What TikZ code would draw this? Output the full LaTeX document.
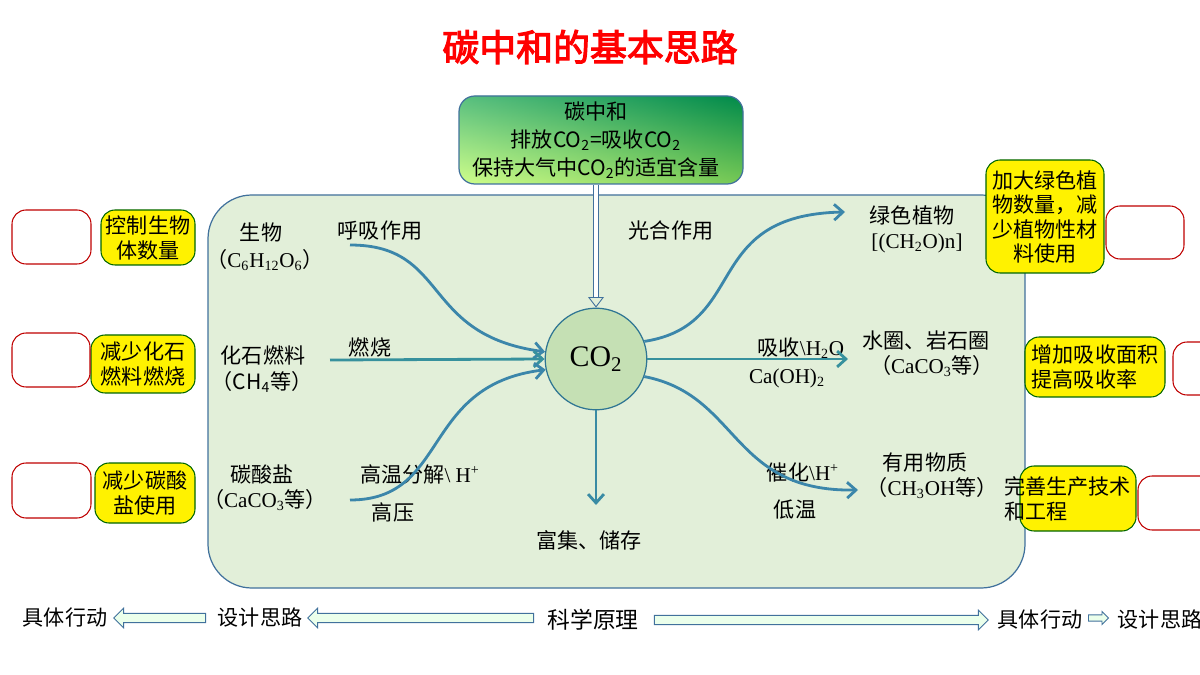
\documentclass[tikz,border=0pt]{standalone}
\usepackage{fontspec}
\setmainfont{Noto Sans CJK SC}
\newfontfamily\tnr{Liberation Serif}
\newfontfamily\ttl[AutoFakeBold=3]{Noto Sans CJK SC}
\usetikzlibrary{arrows.meta,shapes.arrows,positioning}
\definecolor{bgreen}{HTML}{E2EFD9}
\definecolor{cgreen}{HTML}{C5E0B4}
\definecolor{frame}{HTML}{41719C}
\definecolor{arr}{HTML}{4472C4}
\definecolor{tl}{HTML}{2EA583}
\newcommand{\sub}[1]{\textsubscript{#1}}
\tikzset{
  txt/.style = {font=\fontsize{12}{14}\selectfont, align=center, inner sep=1pt},
  tip/.style = {rounded corners=8pt, fill=yellow, draw=black!60!green, line width=0.6pt},
  empty/.style = {rounded corners=8pt, draw=red!75!black, fill=white, line width=0.6pt},
  flow/.style = {line width=1.6pt, -{Straight Barb[length=5pt,width=9pt]}},
  fat/.style = {single arrow, draw=frame, fill=green!8, minimum height=#1, minimum width=0pt,
     single arrow head extend=3pt, inner xsep=0pt, inner ysep=2.4pt, line width=0.5pt},
}
\begin{document}
\begin{tikzpicture}[x=0.02cm, y=-0.02cm]
\useasboundingbox (0,0) rectangle (1200,675);
\clip (0,0) rectangle (1200,675);

% title
\node[text=red, font=\fontsize{21}{24}\selectfont\ttl\bfseries] (title) at (590,47) {碳中和的基本思路};

% main frame
\draw[fill=bgreen, draw=frame, line width=0.7pt, rounded corners=25pt] (208,195) rectangle (1025,588);

% top box
\shade[top color=green!45!teal!85!black, bottom color=green!40!yellow!70, rounded corners=9pt] (459,96) rectangle (743,184);
\shade[left color=white!10, right color=teal!80!black, opacity=0.35, rounded corners=9pt] (459,96) rectangle (743,184);
\draw[frame, rounded corners=9pt, line width=0.7pt] (459,96) rectangle (743,184);
\node[txt, font=\fontsize{12}{16}\selectfont] (goal) at (596,140) {碳中和\\排放CO\sub{2}=吸收CO\sub{2}\\保持大气中CO\sub{2}的适宜含量};

% CO2
\node[circle, draw=frame!70!teal, fill=cgreen, minimum size=102pt*0.02/0.0352778, line width=0.7pt,
  font=\fontsize{17}{20}\selectfont\tnr] (co2) at (596,359) {CO\sub{2}};

\draw[double=white, double distance=2.5pt, draw=frame, line width=0.5pt, -{Triangle[open,length=6pt,width=9pt]}]
  (596,185) -- (co2.north);
\draw[flow, color=arr!50!tl] (co2.south) -- (596,505);

% left column
\node[txt] (bio) at (261,232) {生物};
\node[txt] (biof) at (265,260) {（{\tnr C\sub{6}H\sub{12}O\sub{6}}）};
\node[txt] (resp) at (380,231) {呼吸作用};
\node[txt] (fossil) at (263,355) {化石燃料};
\node[txt] (ch4) at (262,382) {（CH\sub{4}等）};
\node[txt] (burn) at (370,347) {燃烧};
\node[txt] (carb) at (262,474) {碳酸盐};
\node[txt] (caco) at (265,500) {（{\tnr CaCO\sub{3}}等）};
\node[txt] (decomp) at (420,474) {高温分解{\tnr\textbackslash{} H\textsuperscript{+}}};
\node[txt] (press) at (393,512) {高压};
\node[txt] (store) at (589,540) {富集、储存};

% right column
\node[txt] (photo) at (671,231) {光合作用};
\node[txt] (plant) at (912,215) {绿色植物};
\node[txt, font=\fontsize{12}{14}\selectfont\tnr] (plantf) at (917,243) {[(CH\sub{2}O)n]};
\node[txt] (absorb) at (801,348) {吸收{\tnr\textbackslash H\sub{2}O}};
\node[txt, font=\fontsize{12}{14}\selectfont\tnr] (caoh) at (787,378) {Ca(OH)\sub{2}};
\node[txt] (sphere) at (926,340) {水圈、岩石圈};
\node[txt] (sphf) at (932,366) {（{\tnr CaCO\sub{3}}等）};
\node[txt] (cat) at (803,472) {催化{\tnr\textbackslash H\textsuperscript{+}}};
\node[txt] (low) at (795,510) {低温};
\node[txt] (useful) at (925,463) {有用物质};
\node[txt] (usef) at (932,488) {（{\tnr CH\sub{3}OH}等）};

% flows
\coordinate (r0) at (350,245);
\coordinate (f0) at (330,360);
\coordinate (d0) at (350,500);
\draw[flow, color=tl!40!arr] (r0) .. controls (450,245) and (420,335) .. (co2.172);
\draw[flow, color=tl!60!arr] (f0) -- (co2.west);
\draw[flow, color=tl!40!arr] (d0) .. controls (450,500) and (420,385) .. (co2.192);
\draw[flow, color=tl!40!arr] (co2.20) .. controls (750,325) and (700,215) .. (845,212);
\draw[flow, color=tl!60!arr] (co2.east) -- (848,359);
\draw[flow, color=tl!40!arr] (co2.340) .. controls (740,395) and (730,492) .. (858,490);

% advice boxes
\draw[tip] (101,210) rectangle (195,265);
\node[txt] (t1) at (148,238) {控制生物\\体数量};
\draw[tip] (91,335) rectangle (195,393);
\node[txt] (t2) at (143,364) {减少化石\\燃料燃烧};
\draw[tip] (95,463) rectangle (195,523);
\node[txt] (t3) at (145,493) {减少碳酸\\盐使用};
\draw[empty] (12,210) rectangle (91,264);
\draw[empty] (12,333) rectangle (90,387);
\draw[empty] (12,463) rectangle (91,518);

\draw[tip] (986,160) rectangle (1104,273);
\node[txt] (t4) at (1045,217) {加大绿色植\\物数量，减\\少植物性材\\料使用};
\draw[tip] (1025,337) rectangle (1165,397);
\node[txt, align=left] (t5) at (1095,367) {增加吸收面积\\提高吸收率};
\draw[tip] (1020,466) rectangle (1136,531);
\node[txt, align=left, anchor=west] (t6) at (1002,499) {完善生产技术\\和工程};
\draw[empty] (1106,206) rectangle (1184,259);
\draw[empty] (1173,342) rectangle (1215,395);
\draw[empty] (1138,476) rectangle (1215,530);

% bottom line
\node[txt] (act1) at (65,618) {具体行动};
\node[txt] (des1) at (260,618) {设计思路};
\node[txt, font=\fontsize{13}{15}\selectfont] (sci) at (593,620) {科学原理};
\node[txt] (act2) at (1040,620) {具体行动};
\node[txt] (des2) at (1160,620) {设计思路};
\node[fat=92*0.02cm, shape border rotate=180] (a1) at (162,618) {};
\node[fat=226*0.02cm, shape border rotate=180] (a2) at (423,618) {};
\node[fat=334*0.02cm] (a3) at (819,620) {};
\node[fat=20*0.02cm, inner ysep=1.5pt, single arrow head extend=2pt] (a4) at (1097,618) {};
\end{tikzpicture}
\end{document}
